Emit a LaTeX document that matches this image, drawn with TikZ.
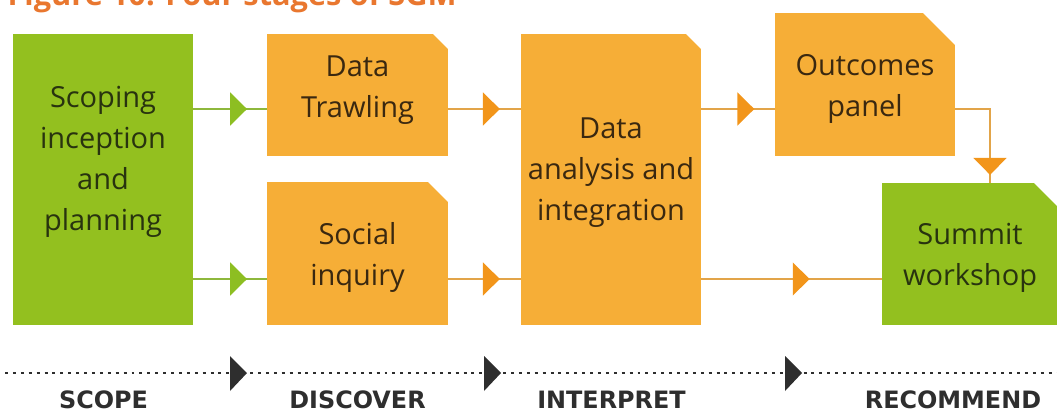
\documentclass[tikz,border=0pt]{standalone}
\usepackage{fontspec}
\setmainfont{Open Sans}
\newfontfamily\stagefont{DejaVu Sans}
\usetikzlibrary{arrows.meta,decorations.markings,calc}

\definecolor{boxgreen}{HTML}{93C01F}
\definecolor{boxorange}{HTML}{F6AE37}
\definecolor{linegreen}{HTML}{8EB83C}
\definecolor{headgreen}{HTML}{8DBE22}
\definecolor{lineorange}{HTML}{E2A449}
\definecolor{headorange}{HTML}{F2951A}
\definecolor{textbrown}{HTML}{3A2810}
\definecolor{textgreen}{HTML}{28330F}
\definecolor{titleorange}{HTML}{E9772F}
\definecolor{stagegray}{HTML}{2E2E2E}

% box with the top right corner cut off
\newcommand{\cutbox}[3]{%
  \fill[#2] (#1.south west) |- ($(#1.north east)+(-#3,0)$)
    -- ($(#1.north east)+(0,#3)$) -- (#1.south east) -- cycle;}

\begin{document}
\begin{tikzpicture}[x=0.02cm,y=-0.02cm,
    box/.style={inner sep=0pt, outer sep=0pt},
    boxtext/.style={align=center, font=\fontsize{16.5}{23.3}\selectfont},
    stagetext/.style={anchor=base, text=stagegray, inner sep=0pt,
      font=\stagefont\bfseries\fontsize{13.6}{15}\selectfont},
    greenlink/.style={draw=linegreen, line width=1.2pt, postaction={decorate},
      decoration={markings, mark=at position #1 with
        {\arrow[headgreen]{Triangle[length=9.6pt,width=18.7pt]}}}},
    orangelink/.style={draw=lineorange, line width=1.2pt, postaction={decorate},
      decoration={markings, mark=at position #1 with
        {\arrow[headorange]{Triangle[length=9.6pt,width=18.7pt]}}}}]

  \useasboundingbox (0,0) rectangle (1057,412);

  % title, cut at the top
  \node[anchor=base east, text=titleorange, inner sep=0pt,
    font=\bfseries\fontsize{17.5}{20}\selectfont] (title) at (457,6)
    {Figure 10: Four stages of SGM};

  % boxes
  \node[box, minimum width=3.6cm, minimum height=5.82cm] (scoping) at (103,179.5) {};
  \node[box, minimum width=3.62cm, minimum height=2.44cm] (trawl) at (357.5,95) {};
  \node[box, minimum width=3.62cm, minimum height=2.86cm] (social) at (357.5,253.5) {};
  \node[box, minimum width=3.6cm, minimum height=5.82cm] (analysis) at (611,179.5) {};
  \node[box, minimum width=3.6cm, minimum height=2.86cm] (outcomes) at (865,84.5) {};
  \node[box, minimum width=3.52cm, minimum height=2.84cm] (summit) at (970,254) {};

  \fill[boxgreen] (scoping.south west) rectangle (scoping.north east);
  \cutbox{trawl}{boxorange}{15}
  \cutbox{social}{boxorange}{20}
  \cutbox{analysis}{boxorange}{15}
  \cutbox{outcomes}{boxorange}{32}
  \cutbox{summit}{boxgreen}{24}

  \node[boxtext, text=textgreen] (scoping-t) at (103,162) {Scoping\\inception\\and\\planning};
  \node[boxtext, text=textbrown] (trawl-t) at (357.5,90) {Data\\Trawling};
  \node[boxtext, text=textbrown] (social-t) at (357.5,257.5) {Social\\inquiry};
  \node[boxtext, text=textbrown] (analysis-t) at (611,173) {Data\\analysis and\\integration};
  \node[boxtext, text=textbrown] (outcomes-t) at (865,89) {Outcomes\\panel};
  \node[boxtext, text=textgreen] (summit-t) at (970,257.5) {Summit\\workshop};

  % connectors
  \coordinate (trawl-in) at ($(trawl.west)+(0,14)$);
  \coordinate (social-in) at ($(social.west)+(0,25.5)$);
  \coordinate (analysis-in1) at ($(analysis.west)+(0,-70.5)$);
  \coordinate (analysis-in2) at ($(analysis.west)+(0,99.5)$);
  \coordinate (outcomes-in) at ($(outcomes.west)+(0,24.5)$);
  \coordinate (summit-in) at ($(summit.west)+(0,25)$);
  \coordinate (summit-top) at ($(summit.north west)+(108,0)$);

  \draw[greenlink=0.73] (scoping.east |- trawl-in) -- (trawl-in);
  \draw[greenlink=0.73] (scoping.east |- social-in) -- (social-in);
  \draw[orangelink=0.71] (trawl.east |- analysis-in1) -- (analysis-in1);
  \draw[orangelink=0.71] (social.east |- analysis-in2) -- (analysis-in2);
  \draw[orangelink=0.72] (analysis.east |- outcomes-in) -- (outcomes-in);
  \draw[orangelink=0.6] (analysis.east |- summit-in) -- (summit-in);
  \draw[orangelink=0.925] (outcomes.east |- outcomes-in) -| (summit-top);

  % stages along the bottom
  \coordinate (line-start) at (5,373);
  \coordinate (line-end) at (1057,373);
  \draw[stagegray, line width=1.7pt, dash pattern=on 1.7pt off 2.8pt]
    (line-start) -- (line-end);
  \foreach \tx in {230,484,785}
    \fill[stagegray] (\tx,356) -- (\tx+17,373) -- (\tx,391) -- cycle;

  \node[stagetext] (scope) at (103.5,408) {SCOPE};
  \node[stagetext] (discover) at (357.5,408) {DISCOVER};
  \node[stagetext] (interpret) at (611.5,408) {INTERPRET};
  \node[stagetext] (recommend) at (953,408) {RECOMMEND};
\end{tikzpicture}
\end{document}
